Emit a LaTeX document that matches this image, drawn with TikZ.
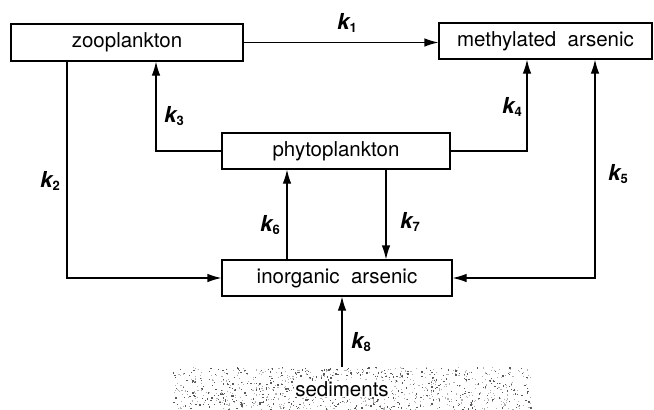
\documentclass[tikz,border=0pt]{standalone}
\usepackage{fontspec}
\setmainfont{TeX Gyre Heros}
\usetikzlibrary{arrows.meta}
\newcommand{\kk}[1]{{\fontsize{22}{22}\selectfont\bfseries\itshape k}\raisebox{-0.4ex}{\fontsize{13}{13}\selectfont\bfseries #1}}
\begin{document}
\begin{tikzpicture}[x=1pt,y=-1pt,
  box/.style={draw,line width=1.2pt,inner sep=0pt,font=\fontsize{20.5}{20.5}\selectfont},
  conn/.style={line width=1.2pt},
  arr/.style={conn,-{Latex[length=14pt,width=8.5pt]}},
  darr/.style={conn,{Latex[length=14pt,width=8.5pt]}-{Latex[length=14pt,width=8.5pt]}},
  klab/.style={inner sep=0pt}]
\useasboundingbox (0,0) rectangle (654,410);
% boxes
\node[box,minimum width=232pt,minimum height=37pt] (zoo) at (127,42.5) {zooplankton};
\node[box,minimum width=213pt,minimum height=36pt] (meth) at (545.5,41) {methylated\ \ arsenic};
\node[box,minimum width=228pt,minimum height=36pt] (phyto) at (336,151) {phytoplankton};
\node[box,minimum width=230pt,minimum height=36pt] (inorg) at (337,278) {inorganic\ \ arsenic};
% sediments stipple
\pgfmathsetseed{7}
\foreach \i in {1,...,480}{%
  \pgfmathsetmacro\rx{173+358*rnd}%
  \pgfmathsetmacro\ry{367+42*rnd}%
  \fill[black!65] (\rx,\ry) rectangle ++(1.3,1.3);}
\foreach \i in {1,...,600}{%
  \pgfmathsetmacro\rx{173+358*rnd}%
  \pgfmathsetmacro\ry{367+42*rnd}%
  \fill[black!30] (\rx,\ry) rectangle ++(1.1,1.1);}
\node[inner sep=0.8pt,fill=white,font=\fontsize{20.5}{20.5}\selectfont] (sed) at (342,389) {sediments};
\coordinate (sedtop) at (342,367);
% x positions
\coordinate (x2) at (67,0);
\coordinate (x3) at (156,0);
\coordinate (x4) at (527,0);
\coordinate (x5) at (595,0);
\coordinate (x6) at (287,0);
\coordinate (x7) at (386,0);
% connectors
\draw[arr] (zoo.east) -- (zoo.east -| meth.west);
\draw[arr] (phyto.west) -| (x3 |- zoo.south);
\draw[arr] (phyto.east) -| (x4 |- meth.south);
\draw[darr] (x5 |- meth.south) |- (inorg.east);
\draw[arr] (x2 |- zoo.south) |- (inorg.west);
\draw[arr] (x6 |- inorg.north) -- (x6 |- phyto.south);
\draw[arr] (x7 |- phyto.south) -- (x7 |- inorg.north);
\draw[arr] (sedtop) -- (sedtop |- inorg.south);
% labels
\node[klab] (k1) at (347,23) {\kk{1}};
\node[klab] (k2) at (50,181) {\kk{2}};
\node[klab] (k3) at (174,116) {\kk{3}};
\node[klab] (k4) at (512,107) {\kk{4}};
\node[klab] (k5) at (618,174) {\kk{5}};
\node[klab] (k6) at (270,225) {\kk{6}};
\node[klab] (k7) at (410,222) {\kk{7}};
\node[klab] (k8) at (361,342) {\kk{8}};
\end{tikzpicture}
\end{document}
